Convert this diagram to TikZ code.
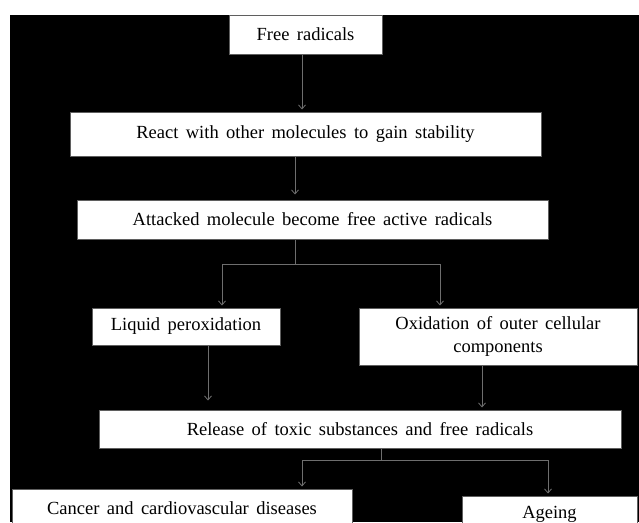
\documentclass[tikz,border=0pt]{standalone}
\usepackage{fontspec}
\setmainfont{Liberation Serif}[WordSpace=1.6]
\usetikzlibrary{arrows.meta,positioning}
\definecolor{linkgray}{RGB}{110,110,110}
\definecolor{boxgray}{RGB}{95,95,95}

\begin{document}
\begin{tikzpicture}[
  x=1pt, y=-1pt,
  font=\fontsize{18.5}{23}\selectfont,
  box/.style={draw=boxgray, line width=1pt, fill=white, align=center, inner sep=0pt},
  link/.style={draw=linkgray, line width=0.8pt},
  arrow/.style={link, -{Straight Barb[length=4pt,width=7pt]}, shorten >=2pt}
]
\useasboundingbox (0,0) rectangle (639,522);
\clip (0,0) rectangle (639,522);
\fill[black] (10,15) rectangle (639,522);

\node[box, minimum width=153pt, minimum height=39pt] (free) at (305.5,34.5) {Free radicals};
\node[box, minimum width=471pt, minimum height=44pt, below=57pt of free] (react) {React with other molecules to gain stability};
\node[box, minimum width=471pt, minimum height=39pt, below=43pt of react, xshift=7pt] (attacked) {Attacked molecule become free active radicals};
\node[box, minimum width=188pt, minimum height=37pt] (liquid) at (186,326.5) {Liquid peroxidation};
\node[box, minimum width=278pt, minimum height=57pt] (oxid) at (498,336.5) {Oxidation of outer cellular\\components};
\node[box, minimum width=522pt, minimum height=38pt] (release) at (360,429) {Release of toxic substances and free radicals};
\node[box, minimum width=340pt, minimum height=38pt] (cancer) at (182,508) {Cancer and cardiovascular diseases};
\node[box, minimum width=175pt, minimum height=36pt] (ageing) at (549.5,514) {Ageing};

\draw[arrow] ([xshift=-3.5pt]free.south) -- ([xshift=-3.5pt]free.south |- react.north);
\draw[arrow, shorten >=5pt] ([xshift=-10.5pt]react.south) -- ([xshift=-10.5pt]react.south |- attacked.north);

% split after attacked molecule
\draw[link] ([xshift=-17.5pt]attacked.south) -- ++(0,25) coordinate (splitA);
\draw[arrow] (splitA) -| ([xshift=36pt]liquid.north);
\draw[arrow] (splitA) -| ([xshift=-58pt]oxid.north);

\draw[arrow, shorten >=9pt] ([xshift=22pt]liquid.south) -- ([xshift=22pt]liquid.south |- release.north);
\draw[arrow] ([xshift=-16pt]oxid.south) -- ([xshift=-16pt]oxid.south |- release.north);

% split after release
\draw[link] ([xshift=21pt]release.south) -- ++(0,12) coordinate (splitB);
\draw[arrow] (splitB) -| ([xshift=120pt]cancer.north);
\draw[arrow] (splitB) -| ([xshift=-1.5pt]ageing.north);
\end{tikzpicture}
\end{document}
